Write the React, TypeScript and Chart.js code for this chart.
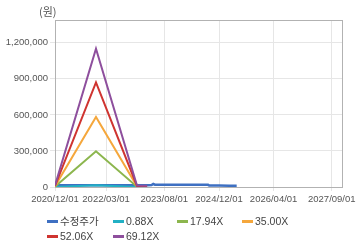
import React, { useEffect, useRef } from "react";
import { Chart, registerables } from "chart.js";

Chart.register(...registerables);

// ---- data ----
const xTickLabels = ["2020/12/01", "2022/03/01", "2023/08/01", "2024/12/01", "2026/04/01", "2027/09/01"];
const xMinLabel = "2020/12/01";
const xMaxLabel = "2027/12/01";
const yTickValues = [0, 300000, 600000, 900000, 1200000];
const yMax = 1390000;

const bandDates = ["2020/12/01", "2021/12/01", "2022/12/01", "2023/03/01"];
const band088 = [150, 14600, 150, 130];
const band1794 = [3000, 297000, 3000, 2500];
const band3500 = [6000, 582000, 6000, 5000];
const band5206 = [9000, 870000, 9000, 7500];
const band6912 = [12000, 1150000, 12000, 10000];

const priceDates = [
  "2020/12/01", "2021/03/01", "2021/06/01", "2021/09/01", "2021/12/01",
  "2022/03/01", "2022/06/01", "2022/09/01", "2022/12/01", "2023/03/01",
  "2023/04/10", "2023/04/25", "2023/05/10", "2023/09/01", "2023/12/01",
  "2024/03/01", "2024/06/01", "2024/08/25", "2024/09/05", "2024/12/01",
  "2025/03/01", "2025/05/07",
];
const priceValues = [
  15000, 15500, 15500, 15000, 14500,
  15000, 15000, 14500, 15000, 15500,
  16000, 25000, 19000, 19000, 18500,
  18500, 18500, 18000, 11500, 11500,
  11000, 11000,
];

const seriesLabels = ["수정주가", "0.88X", "17.94X", "35.00X", "52.06X", "69.12X"];
const seriesColors = ["#3e70c2", "#22b0c4", "#8cb64e", "#f5a73c", "#cf3430", "#8e4f9d"];

// ---- helpers ----
const toTs = (s: string) => {
  const [y, m, d] = s.split("/").map(Number);
  return Date.UTC(y, m - 1, d);
};
const pad = (n: number) => (n < 10 ? "0" + n : "" + n);
const fmtDate = (v: number) => {
  const d = new Date(v);
  return `${d.getUTCFullYear()}/${pad(d.getUTCMonth() + 1)}/${pad(d.getUTCDate())}`;
};
const zip = (dates: string[], vals: number[]) => dates.map((d, i) => ({ x: toTs(d), y: vals[i] }));

const FONT = "'Liberation Sans', 'Noto Sans CJK KR', sans-serif";
const KFONT = "'Noto Sans CJK KR', 'Liberation Sans', sans-serif";
const GRID = "#e6e6e6";
const BORDER = "#b2b2b2";

const framePlugin = {
  id: "frame",
  beforeDatasetsDraw(chart: any) {
    const { ctx, chartArea } = chart;
    ctx.save();
    ctx.strokeStyle = BORDER;
    ctx.lineWidth = 1;
    ctx.strokeRect(
      Math.round(chartArea.left) + 0.5,
      Math.round(chartArea.top) + 0.5,
      Math.round(chartArea.right - chartArea.left),
      Math.round(chartArea.bottom - chartArea.top)
    );
    ctx.restore();
  },
};

export default function App() {
  const ref = useRef<HTMLCanvasElement | null>(null);

  useEffect(() => {
    if (!ref.current) return;
    const bandSets = [band088, band1794, band3500, band5206, band6912];
    const datasets: any[] = [
      {
        label: seriesLabels[0],
        data: zip(priceDates, priceValues),
        borderColor: seriesColors[0],
        backgroundColor: seriesColors[0],
        borderWidth: 2.5,
        order: 10,
      },
      ...bandSets.map((vals, i) => ({
        label: seriesLabels[i + 1],
        data: zip(bandDates, vals),
        borderColor: seriesColors[i + 1],
        backgroundColor: seriesColors[i + 1],
        borderWidth: 2,
        order: 9 - i,
      })),
    ];

    const chart = new Chart(ref.current, {
      type: "line",
      data: { datasets },
      plugins: [framePlugin],
      options: {
        animation: false,
        responsive: false,
        devicePixelRatio: 1,
        layout: { padding: { top: 20, right: 18, left: 0, bottom: 0 } },
        elements: { point: { radius: 0, hoverRadius: 0 }, line: { tension: 0 } },
        plugins: { legend: { display: false }, tooltip: { enabled: false } },
        events: [],
        scales: {
          x: {
            type: "linear",
            min: toTs(xMinLabel),
            max: toTs(xMaxLabel),
            afterBuildTicks: (scale: any) => {
              scale.ticks = xTickLabels.map((s) => ({ value: toTs(s) }));
            },
            afterFit: (scale: any) => {
              scale.height = 61;
            },
            grid: { color: GRID, tickLength: 4, drawTicks: true },
            border: { color: BORDER },
            ticks: {
              autoSkip: false,
              maxRotation: 0,
              padding: 3,
              color: "#555",
              font: { family: FONT, size: 9.5 },
              callback: (v: any) => fmtDate(Number(v)),
            },
          },
          y: {
            type: "linear",
            min: 0,
            max: yMax,
            afterBuildTicks: (scale: any) => {
              scale.ticks = yTickValues.map((v) => ({ value: v }));
            },
            afterFit: (scale: any) => {
              scale.width = 55;
            },
            grid: { color: GRID, tickLength: 5 },
            border: { color: BORDER },
            ticks: {
              padding: 2,
              color: "#555",
              font: { family: FONT, size: 9.5 },
              callback: (v: any) => Number(v).toLocaleString("en-US"),
            },
          },
        },
      } as any,
    });
    return () => chart.destroy();
  }, []);

  const legendPos = [
    { left: 47, top: 221 },
    { left: 113, top: 221 },
    { left: 177, top: 221 },
    { left: 242, top: 221 },
    { left: 47, top: 236 },
    { left: 113, top: 236 },
  ];

  return (
    <div style={{ position: "fixed", left: 0, top: 0, width: 360, height: 248, background: "#fff", overflow: "hidden" }}>
      <canvas ref={ref} width={360} height={248} style={{ position: "absolute", left: 0, top: 0, width: 360, height: 248 }} />
      <span
        style={{
          position: "absolute",
          left: 39,
          top: 4,
          fontFamily: KFONT,
          fontSize: 11,
          lineHeight: "14px",
          color: "#555",
          whiteSpace: "nowrap",
        }}
      >
        (원)
      </span>
      {seriesLabels.map((lab, i) => (
        <div
          key={lab}
          style={{
            position: "absolute",
            left: legendPos[i].left,
            top: legendPos[i].top - 8,
            height: 16,
            display: "flex",
            alignItems: "center",
            whiteSpace: "nowrap",
          }}
        >
          <span style={{ display: "inline-block", width: 11, height: 3, background: seriesColors[i], marginRight: 2 }} />
          <span
            style={{
              fontFamily: i === 0 ? KFONT : FONT,
              fontSize: i === 0 ? 10.5 : 10.5,
              lineHeight: "16px",
              color: "#444",
            }}
          >
            {lab}
          </span>
        </div>
      ))}
    </div>
  );
}
